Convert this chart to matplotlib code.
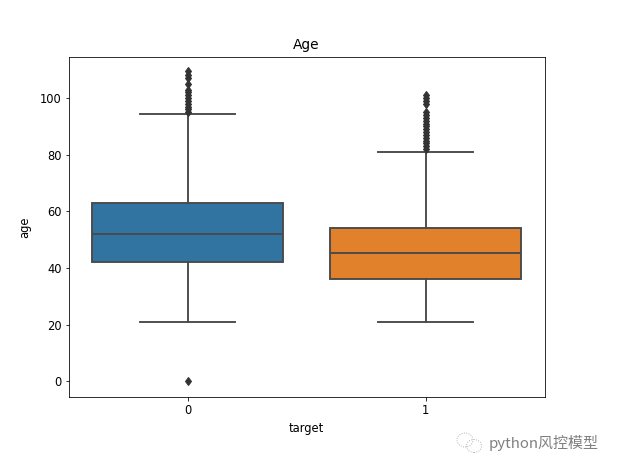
import matplotlib
matplotlib.use('Agg')
import matplotlib.pyplot as plt
from matplotlib.patches import Ellipse

# values
targets = [0, 1]
tick_labels = ['0', '1']
med = [52, 45.5]
q1 = [42, 36]
q3 = [63, 54]
whislo = [21, 21]
whishi = [94.5, 81]
fliers_0 = [0, 95, 96, 97, 98, 99, 100, 101, 102, 103, 105, 107, 108, 109.5]
fliers_1 = [82, 83, 84, 85, 86, 87, 88, 89, 90, 91, 92, 93, 94, 95, 98, 99, 100, 101]
box_colors = ['#3274a1', '#e1812c']
line_color = '#4a4a4a'

stats = []
for i, t in enumerate(targets):
    stats.append({'med': med[i], 'q1': q1[i], 'q3': q3[i], 'whislo': whislo[i], 'whishi': whishi[i],
                  'fliers': [fliers_0, fliers_1][i], 'label': tick_labels[i]})

fig = plt.figure(figsize=(618 / 72, 470 / 72), dpi=72)
ax = fig.add_axes([68.5 / 618, 1 - 397 / 470, 476 / 618, 340 / 470])

res = ax.bxp(stats, positions=targets, widths=0.8, patch_artist=True,
             boxprops=dict(edgecolor=line_color, linewidth=1.9),
             medianprops=dict(color=line_color, linewidth=1.9),
             whiskerprops=dict(color=line_color, linewidth=1.9),
             capprops=dict(color=line_color, linewidth=1.9),
             flierprops=dict(marker='d', markersize=6, markerfacecolor='#333333',
                             markeredgecolor='#333333'))
for patch, c in zip(res['boxes'], box_colors):
    patch.set_facecolor(c)
for cap in res['caps']:
    xd = cap.get_xdata()
    mid = (xd[0] + xd[1]) / 2
    cap.set_xdata([mid - 0.2, mid + 0.2])

ax.set_xlim(-0.5, 1.5)
ax.set_ylim(-5.5, 114.5)
ax.set_yticks([0, 20, 40, 60, 80, 100])
ax.tick_params(labelsize=11.5)
ax.set_xlabel('target', fontsize=11.5, labelpad=5)
ax.set_ylabel('age', fontsize=11.5, labelpad=9)
ax.set_title('Age', fontsize=13.8, pad=8)

# watermark in the corner
fig.text(489 / 618, 1 - 443 / 470, 'python风控模型', fontsize=15, color='#808080', va='center',
         family=['Noto Sans CJK SC', 'DejaVu Sans'])
for cx, cy, w, h in [(465, 440, 16, 14), (474, 446, 15, 13)]:
    fig.add_artist(Ellipse((cx / 618, 1 - cy / 470), w / 618, h / 470, fill=False,
                           edgecolor='#a8a8a8', linewidth=0.9, linestyle=':',
                           transform=fig.transFigure))

fig.savefig('out.png', dpi=72)
